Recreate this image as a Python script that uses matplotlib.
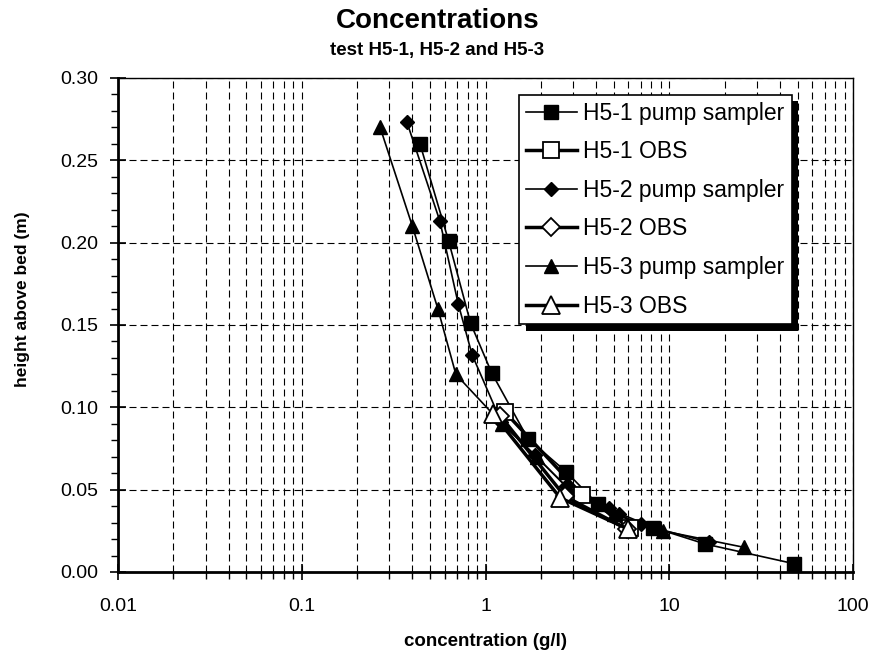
import matplotlib
matplotlib.use("Agg")
import matplotlib.pyplot as plt
from matplotlib.ticker import LogLocator, FixedLocator, NullFormatter, FuncFormatter
import matplotlib.patheffects as pe

plt.rcParams["font.family"] = ["Liberation Sans", "DejaVu Sans"]

# H5-1 pump sampler (filled squares)
h51_pump_c = [0.44, 0.63, 0.83, 1.08, 1.70, 2.74, 4.1, 8.2, 15.7, 48.0]
h51_pump_h = [0.260, 0.201, 0.151, 0.121, 0.081, 0.061, 0.041, 0.027, 0.017, 0.005]
# H5-1 OBS (open squares)
h51_obs_c = [1.28, 3.35, 6.1]
h51_obs_h = [0.097, 0.047, 0.027]
# H5-2 pump sampler (filled diamonds)
h52_pump_c = [0.374, 0.565, 0.71, 0.845, 1.22, 1.85, 2.75, 4.7, 5.3, 7.0, 16.5]
h52_pump_h = [0.273, 0.213, 0.163, 0.132, 0.091, 0.071, 0.052, 0.039, 0.035, 0.029, 0.018]
# H5-2 OBS (open diamonds)
h52_obs_c = [1.2, 2.7, 5.9]
h52_obs_h = [0.095, 0.046, 0.026]
# H5-3 pump sampler (filled triangles)
h53_pump_c = [0.267, 0.40, 0.55, 0.69, 1.23, 1.9, 2.85, 5.0, 9.2, 25.5]
h53_pump_h = [0.270, 0.210, 0.160, 0.120, 0.090, 0.070, 0.050, 0.035, 0.025, 0.015]
# H5-3 OBS (open triangles)
h53_obs_c = [1.10, 2.55, 6.0]
h53_obs_h = [0.096, 0.045, 0.026]

fig = plt.figure(figsize=(8.75, 6.66), dpi=100)
ax = fig.add_axes([118 / 875, 1 - 572 / 666, 735 / 875, 494 / 666])

ax.set_xscale("log")
ax.set_xlim(0.01, 100)
ax.set_ylim(0, 0.30)

# grid: all x decades and minor positions, y every 0.05
ax.xaxis.set_major_locator(LogLocator(base=10, numticks=10))
ax.xaxis.set_minor_locator(LogLocator(base=10, subs=range(2, 10), numticks=20))
ax.xaxis.set_minor_formatter(NullFormatter())
ax.xaxis.set_major_formatter(FuncFormatter(lambda v, p: "%g" % v))
ax.yaxis.set_major_locator(FixedLocator([0, 0.05, 0.10, 0.15, 0.20, 0.25, 0.30]))
ax.yaxis.set_minor_locator(FixedLocator([i / 100 for i in range(31)]))
ax.yaxis.set_major_formatter(FuncFormatter(lambda v, p: "%.2f" % v))

dash = (0, (6.3, 3.6))
ax.grid(True, which="major", axis="both", color="black", linestyle=dash, linewidth=0.8)
ax.grid(True, which="minor", axis="x", color="black", linestyle=dash, linewidth=0.8)
ax.set_axisbelow(True)

ax.tick_params(which="major", direction="inout", length=11, width=1.2, labelsize=14)
ax.tick_params(axis="x", which="major", pad=13)
ax.tick_params(axis="y", which="major", pad=9)
ax.tick_params(which="minor", direction="out", length=5, width=1.0)
for s in ["left", "bottom"]:
    ax.spines[s].set_linewidth(2)
for s in ["top", "right"]:
    ax.spines[s].set_linewidth(1)

thin = dict(color="black", linewidth=1.2, markeredgecolor="black", clip_on=False, zorder=3)
thick = dict(color="black", linewidth=2.5, markeredgecolor="black", markeredgewidth=1.3,
             markerfacecolor="white", clip_on=False, zorder=4)

ax.plot(h51_pump_c, h51_pump_h, marker="s", markersize=9.5, markerfacecolor="black",
        label="H5-1 pump sampler", **thin)
ax.plot(h51_obs_c, h51_obs_h, marker="s", markersize=12, label="H5-1 OBS", **thick)
ax.plot(h52_pump_c, h52_pump_h, marker="D", markersize=7, markerfacecolor="black",
        label="H5-2 pump sampler", **thin)
ax.plot(h52_obs_c, h52_obs_h, marker="D", markersize=9, label="H5-2 OBS", **thick)
ax.plot(h53_pump_c, h53_pump_h, marker="^", markersize=10, markerfacecolor="black",
        label="H5-3 pump sampler", **thin)
ax.plot(h53_obs_c, h53_obs_h, marker="^", markersize=12.5, label="H5-3 OBS", **thick)

leg = ax.legend(loc="upper left", bbox_to_anchor=(0.546, 0.966), borderaxespad=0,
                fontsize=16.5, frameon=True, fancybox=False, edgecolor="black", framealpha=1,
                borderpad=0.3, labelspacing=0.68, handlelength=2.2, handletextpad=0.3,
                markerscale=1.0)
leg.get_frame().set_linewidth(1.2)
leg.get_frame().set_path_effects([pe.SimplePatchShadow(offset=(4.5, -4.5), shadow_rgbFace="black", alpha=1),
                                  pe.Normal()])
leg.set_zorder(10)

fig.text(485 / 875, 1 - 642 / 666, "concentration (g/l)", ha="center", va="center",
         fontsize=13.5, fontweight="bold")
fig.text(23 / 875, 1 - 299 / 666, "height above bed (m)", ha="center", va="center",
         rotation=90, fontsize=12.5, fontweight="bold")

fig.text(0.5, 1 - 21 / 666, "Concentrations", ha="center", va="center",
         fontsize=20, fontweight="bold")
fig.text(0.5, 1 - 51 / 666, "test H5-1, H5-2 and H5-3", ha="center", va="center",
         fontsize=13.5, fontweight="bold")

fig.savefig("out.png", dpi=100)
